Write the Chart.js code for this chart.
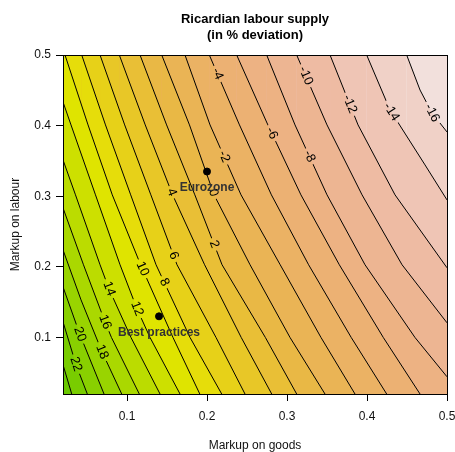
<!DOCTYPE html>
<html>
<head>
<meta charset="utf-8">
<script src="https://cdn.jsdelivr.net/npm/chart.js@4.4.1/dist/chart.umd.min.js"></script>
<style>
  html, body { margin: 0; padding: 0; background: #fff; }
  #wrap { width: 455px; height: 452px; }
</style>
</head>
<body>
<div id="wrap"><canvas id="chart" width="455" height="452"></canvas></div>
<script>
const TITLE = ['Ricardian labour supply', '(in % deviation)'];
const X_LABEL = 'Markup on goods';
const Y_LABEL = 'Markup on labour';
const X_RANGE = [0.02, 0.5];
const Y_RANGE = [0.02, 0.5];
const X_TICKS = [0.1, 0.2, 0.3, 0.4, 0.5];
const Y_TICKS = [0.1, 0.2, 0.3, 0.4, 0.5];

// contour lines, [markup on goods, markup on labour]
const C_M16 = [[0.4496, 0.5], [0.4663, 0.4504], [0.4813, 0.4179], [0.5, 0.391]];
const C_M14 = [[0.3996, 0.5], [0.4288, 0.4222], [0.4725, 0.3444], [0.5, 0.2948]];
const C_M12 = [[0.3538, 0.5], [0.3888, 0.401], [0.435, 0.302], [0.5, 0.1987]];
const C_M10 = [[0.3121, 0.5], [0.35, 0.401], [0.3938, 0.302], [0.4438, 0.203], [0.5, 0.1208]];
const C_M8 = [[0.2746, 0.5], [0.31, 0.401], [0.35, 0.302], [0.3975, 0.203], [0.46, 0.1], [0.5, 0.0444]];
const C_M6 = [[0.2371, 0.5], [0.2761, 0.401], [0.3174, 0.302], [0.3654, 0.203], [0.4204, 0.1], [0.4663, 0.02]];
const C_M4 = [[0.2029, 0.5], [0.2406, 0.401], [0.2805, 0.302], [0.327, 0.203], [0.3803, 0.1], [0.4246, 0.02]];
const C_M2 = [[0.1725, 0.5], [0.2038, 0.401], [0.2425, 0.302], [0.2915, 0.203], [0.3425, 0.1], [0.385, 0.02]];
const C_0 = [[0.1434, 0.5], [0.1781, 0.401], [0.2088, 0.302], [0.2538, 0.203], [0.3038, 0.1], [0.3475, 0.02]];
const C_2 = [[0.1163, 0.5], [0.1495, 0.401], [0.1848, 0.302], [0.2188, 0.203], [0.273, 0.1], [0.3121, 0.02]];
const C_4 = [[0.0904, 0.5], [0.1228, 0.401], [0.157, 0.302], [0.197, 0.203], [0.2428, 0.1], [0.2809, 0.02]];
const C_6 = [[0.0663, 0.5], [0.0971, 0.401], [0.1298, 0.302], [0.1625, 0.203], [0.2113, 0.1], [0.2475, 0.02]];
const C_8 = [[0.0434, 0.5], [0.0731, 0.401], [0.1046, 0.302], [0.1363, 0.203], [0.1788, 0.1], [0.2184, 0.02]];
const C_10 = [[0.0225, 0.5], [0.0513, 0.401], [0.0816, 0.302], [0.117, 0.203], [0.1575, 0.1], [0.191, 0.02]];
const C_12 = [[0.02, 0.4335], [0.03, 0.401], [0.0606, 0.302], [0.0913, 0.203], [0.1125, 0.1406], [0.1288, 0.1], [0.1663, 0.02]];
const C_14 = [[0.02, 0.3515], [0.0356, 0.302], [0.0663, 0.203], [0.0775, 0.1689], [0.105, 0.1], [0.1413, 0.02]];
const C_16 = [[0.02, 0.2835], [0.0456, 0.203], [0.0725, 0.1221], [0.0806, 0.1], [0.1154, 0.02]];
const C_18 = [[0.02, 0.2241], [0.0425, 0.1533], [0.0688, 0.0797], [0.0934, 0.02]];
const C_20 = [[0.02, 0.1717], [0.0413, 0.1038], [0.0713, 0.02]];
const C_22 = [[0.02, 0.1222], [0.0363, 0.0614], [0.0504, 0.02]];
const C_24 = [[0.02, 0.0614], [0.0309, 0.02]];

const LEVELS = [-16, -14, -12, -10, -8, -6, -4, -2, 0, 2, 4, 6, 8, 10, 12, 14, 16, 18, 20, 22, 24];
const LINES = [C_M16, C_M14, C_M12, C_M10, C_M8, C_M6, C_M4, C_M2, C_0, C_2, C_4, C_6, C_8,
    C_10, C_12, C_14, C_16, C_18, C_20, C_22, C_24];

// first colour is below the lowest level, then one per band above each level
const BAND_COLORS = ['#F2E0DC', '#F0D1C7', '#EFC5B5', '#EEBBA3', '#EDB592', '#EDB283', '#ECB173',
    '#EBB264', '#EAB455', '#E9B845', '#E9BF36', '#E8C727', '#E7D118', '#E6DD0A', '#DFE400',
    '#CDE000', '#BBDC00', '#AAD800', '#99D400', '#89D000', '#79CC00', '#6AC800'];

// where the inline contour labels sit
const LABEL_LEVELS = [22, 20, 18, 16, 14, 12, 10, 8, 6, 4, 2, 0, -2, -4, -6, -8, -10, -12, -14, -16];
const LABEL_X = [0.0338, 0.0388, 0.0688, 0.0725, 0.0775, 0.1125, 0.1163, 0.145, 0.1575, 0.1538,
    0.2075, 0.2075, 0.22, 0.21, 0.2763, 0.3263, 0.32, 0.3763, 0.4288, 0.4813];
const LABEL_Y = [0.0614, 0.1038, 0.0797, 0.1221, 0.1689, 0.1406, 0.1958, 0.1774, 0.2156, 0.3047,
    0.2312, 0.3047, 0.3556, 0.4717, 0.3868, 0.3556, 0.4689, 0.4293, 0.4179, 0.4179];

const POINT_NAMES = ['Eurozone', 'Best practices'];
const POINT_X = [0.2, 0.14];
const POINT_Y = [0.335, 0.13];

const FONT = '"Liberation Sans", Arial, sans-serif';
const LABEL_FONT = '13px ' + FONT;

function labelGeometry(chart) {
    const xs = chart.scales.x, ys = chart.scales.y;
    const ctx = chart.ctx;
    ctx.save();
    ctx.font = LABEL_FONT;
    const out = LABEL_LEVELS.map((lv, i) => {
        const di = LEVELS.indexOf(lv);
        const pts = chart.getDatasetMeta(di).data;
        const px = xs.getPixelForValue(LABEL_X[i]);
        const py = ys.getPixelForValue(LABEL_Y[i]);
        let best = null;
        for (let k = 0; k < pts.length - 1; k++) {
            const a = pts[k], b = pts[k + 1];
            const dx = b.x - a.x, dy = b.y - a.y;
            const len2 = dx * dx + dy * dy;
            if (len2 < 1) continue;
            let t = ((px - a.x) * dx + (py - a.y) * dy) / len2;
            t = Math.max(0, Math.min(1, t));
            const qx = a.x + t * dx, qy = a.y + t * dy;
            const d = Math.hypot(px - qx, py - qy);
            if (!best || d < best.d) best = {d, x: qx, y: qy, ang: Math.atan2(dy, dx)};
        }
        let ang = best.ang;
        if (ang > Math.PI / 2) ang -= Math.PI;
        if (ang < -Math.PI / 2) ang += Math.PI;
        const text = String(lv);
        return {di, text, x: best.x, y: best.y, ang, w: ctx.measureText(text).width};
    });
    ctx.restore();
    return out;
}

const contourLabels = {
    id: 'contourLabels',
    beforeDatasetsDraw(chart) {
        const a = chart.chartArea;
        const ctx = chart.ctx;
        ctx.save();
        ctx.fillStyle = BAND_COLORS[0];
        ctx.fillRect(a.left, a.top, a.right - a.left, a.bottom - a.top);
        ctx.restore();
        chart.$labels = labelGeometry(chart);
    },
    beforeDatasetDraw(chart, args) {
        if (args.index >= LEVELS.length) return;
        const ctx = chart.ctx;
        ctx.save();
        ctx.beginPath();
        ctx.rect(0, 0, chart.width, chart.height);
        chart.$labels.filter(l => l.di === args.index).forEach(l => {
            const hw = l.w / 2 + 3, hh = 6;
            const c = Math.cos(l.ang), s = Math.sin(l.ang);
            ctx.moveTo(l.x - hw * c + hh * s, l.y - hw * s - hh * c);
            ctx.lineTo(l.x + hw * c + hh * s, l.y + hw * s - hh * c);
            ctx.lineTo(l.x + hw * c - hh * s, l.y + hw * s + hh * c);
            ctx.lineTo(l.x - hw * c - hh * s, l.y - hw * s + hh * c);
            ctx.closePath();
        });
        ctx.clip('evenodd');
    },
    afterDatasetDraw(chart, args) {
        if (args.index >= LEVELS.length) return;
        chart.ctx.restore();
    },
    afterDatasetsDraw(chart) {
        const ctx = chart.ctx;
        ctx.save();
        ctx.font = LABEL_FONT;
        ctx.fillStyle = '#000';
        ctx.textAlign = 'center';
        ctx.textBaseline = 'middle';
        chart.$labels.forEach(l => {
            ctx.save();
            ctx.translate(l.x, l.y);
            ctx.rotate(l.ang);
            ctx.fillText(l.text, 0, 0);
            ctx.restore();
        });
        // names under the two marked economies
        ctx.font = 'bold 12px ' + FONT;
        ctx.fillStyle = '#333';
        POINT_NAMES.forEach((name, i) => {
            const x = chart.scales.x.getPixelForValue(POINT_X[i]);
            const y = chart.scales.y.getPixelForValue(POINT_Y[i]);
            ctx.fillText(name, x, y + 16);
        });
        ctx.restore();
    },
    afterDraw(chart) {
        const a = chart.chartArea;
        const ctx = chart.ctx;
        ctx.save();
        ctx.strokeStyle = '#000';
        ctx.lineWidth = 1;
        ctx.strokeRect(Math.round(a.left) + 0.5, Math.round(a.top) + 0.5,
            Math.round(a.right - a.left), Math.round(a.bottom - a.top));
        ctx.font = 'bold 13px ' + FONT;
        ctx.fillStyle = '#000';
        ctx.textAlign = 'center';
        ctx.textBaseline = 'middle';
        const cx = (a.left + a.right) / 2;
        ctx.fillText(TITLE[0], cx, 19);
        ctx.fillText(TITLE[1], cx, 35);
        ctx.restore();
    }
};

const datasets = LINES.map((line, i) => {
    const pts = line.map(p => ({x: p[0], y: p[1]}));
    const fromTop = pts[0].y === Y_RANGE[1] && pts[0].x > X_RANGE[0];
    if (fromTop) pts.unshift({x: X_RANGE[0], y: Y_RANGE[1]});
    return {
        data: pts,
        fill: 'start',
        backgroundColor: BAND_COLORS[i + 1],
        borderColor: '#000',
        borderWidth: 1,
        pointRadius: 0,
        tension: 0,
        order: 100 - i,
        segment: {
            borderColor: c => (fromTop && c.p0DataIndex === 0) ? 'rgba(0,0,0,0)' : '#000'
        }
    };
});
datasets.push({
    data: POINT_X.map((x, i) => ({x, y: POINT_Y[i]})),
    showLine: false,
    pointRadius: 3.5,
    pointBackgroundColor: '#000',
    pointBorderColor: '#000',
    order: -1
});

new Chart(document.getElementById('chart'), {
    type: 'line',
    data: {datasets},
    options: {
        responsive: false,
        animation: false,
        layout: {padding: {top: 55, right: 8, left: 0, bottom: 0}},
        plugins: {legend: {display: false}, tooltip: {enabled: false}, title: {display: false}},
        scales: {
            x: {
                type: 'linear',
                min: X_RANGE[0],
                max: X_RANGE[1],
                afterBuildTicks: s => { s.ticks = X_TICKS.map(v => ({value: v})); },
                afterFit: s => { s.height = 58; s.paddingLeft = 0; s.paddingRight = 0; },
                grid: {drawOnChartArea: false, tickLength: 7, color: '#000'},
                border: {display: false},
                ticks: {color: '#111', font: {size: 12, family: FONT}, padding: 8, maxRotation: 0,
                    callback: v => v.toFixed(1)},
                title: {display: true, text: X_LABEL, color: '#111',
                    font: {size: 12, family: FONT, lineHeight: 1.1}, padding: {top: 0, bottom: 0}}
            },
            y: {
                type: 'linear',
                min: Y_RANGE[0],
                max: Y_RANGE[1],
                afterBuildTicks: s => { s.ticks = Y_TICKS.map(v => ({value: v})); },
                afterFit: s => { s.width = 63; s.paddingTop = 0; s.paddingBottom = 0; },
                grid: {drawOnChartArea: false, tickLength: 7, color: '#000'},
                border: {display: false},
                ticks: {color: '#111', font: {size: 12, family: FONT}, padding: 5,
                    callback: v => v.toFixed(1)},
                title: {display: true, text: Y_LABEL, color: '#111', font: {size: 12, family: FONT},
                    padding: {top: 8, bottom: 0}}
            }
        }
    },
    plugins: [contourLabels]
});
</script>
</body>
</html>
